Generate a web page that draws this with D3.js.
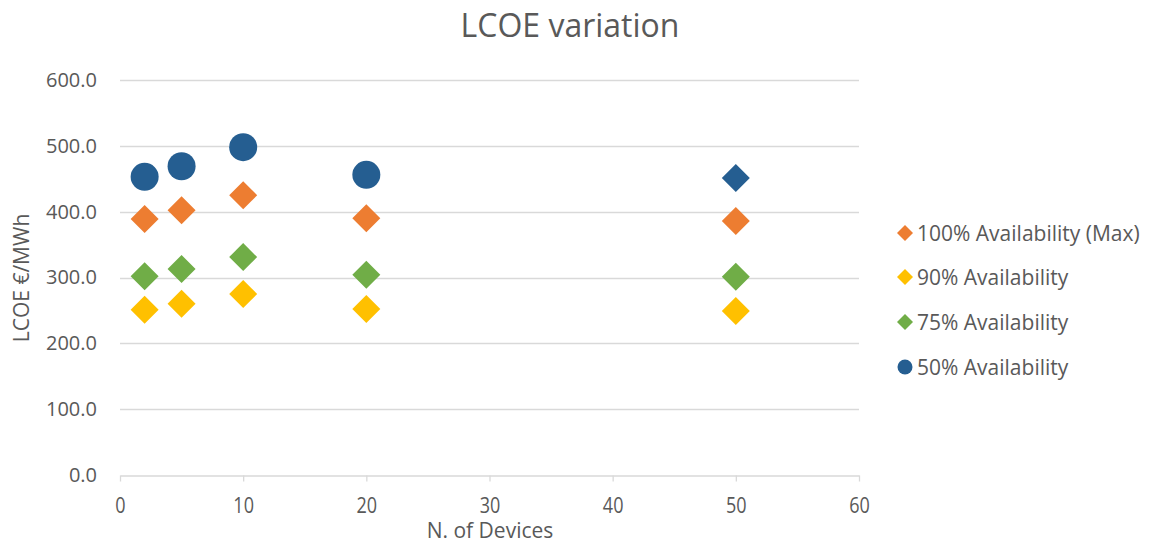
<!DOCTYPE html>
<html><head><meta charset="utf-8">
<script src="https://cdn.jsdelivr.net/npm/d3@7"></script>
<style>body{margin:0;background:#fff;} text{font-family:"Open Sans","Noto Sans",sans-serif;fill:#595959;}</style>
</head><body>
<svg id="c" width="1153" height="542"></svg>
<script>
const devices = [2, 5, 10, 20, 50];
const seriesNames = ["100% Availability (Max)", "90% Availability", "75% Availability", "50% Availability"];
const seriesColors = ["#ED7D31", "#FFC000", "#70AD47", "#255E91"];
const s100 = [389, 402, 425, 390, 386];
const s90 = [251, 260, 275, 252, 249];
const s75 = [302, 313, 331, 304, 301];
const s50 = [453, 469, 498, 456, 451];
const seriesShapes = [["d","d","d","d","d"],["d","d","d","d","d"],["d","d","d","d","d"],["c","c","c","c","d"]];
const legendShapes = ["d","d","d","c"];
const xTicks = [0,10,20,30,40,50,60];
const yTicks = [0,100,200,300,400,500,600];
const seriesValues = [s100, s90, s75, s50];

const svg = d3.select("#c");
const x = d3.scaleLinear().domain([0,60]).range([120,859]);
const y = d3.scaleLinear().domain([0,600]).range([475,80]);

svg.append("text").attr("x",570).attr("y",37).attr("text-anchor","middle")
  .style("font-size","32px").text("LCOE variation");

// gridlines
svg.append("g").selectAll("line").data(yTicks.filter(d=>d>0)).join("line")
  .attr("x1",x(0)).attr("x2",x(60)).attr("y1",d=>Math.round(y(d))+0.5).attr("y2",d=>Math.round(y(d))+0.5)
  .attr("stroke","#d9d9d9").attr("stroke-width",1.3);

// x axis
const xa = svg.append("g").attr("transform",`translate(0,${Math.round(y(0))+0.5})`)
  .call(d3.axisBottom(x).tickValues(xTicks).tickSize(6).tickSizeOuter(0).tickPadding(0));
xa.select(".domain").attr("stroke","#d9d9d9").attr("stroke-width",1.3);
xa.selectAll(".tick line").attr("stroke","#d9d9d9").attr("stroke-width",1.3);
xa.selectAll(".tick text").attr("dy",null).attr("y",38).attr("transform","scale(0.82,1)")
  .style("font-size","22px").attr("fill","#595959");

// y axis labels
const ya = svg.append("g").attr("transform",`translate(${x(0)},0)`)
  .call(d3.axisLeft(y).tickValues(yTicks).tickSize(0).tickPadding(23).tickFormat(d3.format(".1f")));
ya.select(".domain").remove();
ya.selectAll(".tick text").style("font-size","20px").attr("fill","#595959");

svg.append("text").attr("transform","translate(29,278) rotate(-90)").attr("text-anchor","middle")
  .style("font-size","21px").text("LCOE €/MWh");
svg.append("text").attr("x",490).attr("y",538).attr("text-anchor","middle")
  .style("font-size","21px").text("N. of Devices");

function marker(sel, shape, r){
  if(shape==="c") return sel.append("circle").attr("r",r);
  return sel.append("path").attr("d",`M0,${-r}L${r},0L0,${r}L${-r},0Z`);
}

seriesValues.forEach((vals,si)=>{
  const g = svg.append("g");
  vals.forEach((v,i)=>{
    const m = g.append("g").attr("transform",`translate(${x(devices[i])},${y(v)})`);
    marker(m, seriesShapes[si][i], 14).attr("fill",seriesColors[si]);
  });
});

// legend
const ly = [233, 277, 322, 367];
seriesNames.forEach((n,i)=>{
  const g = svg.append("g").attr("transform",`translate(905,${ly[i]})`);
  marker(g, legendShapes[i], legendShapes[i]==="c"?7.5:8).attr("fill",seriesColors[i]);
  g.append("text").attr("x",12).attr("y",8).style("font-size","21px").text(n);
});
</script>
</body></html>
